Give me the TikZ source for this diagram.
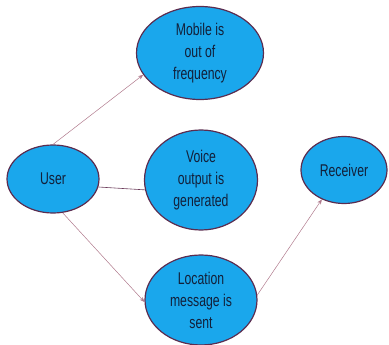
\documentclass[tikz,border=0pt]{standalone}
\usepackage{fontspec}
\setmainfont[FakeStretch=0.72]{Liberation Sans}
\usetikzlibrary{shapes.geometric,arrows.meta}
\definecolor{bubble}{HTML}{1AA7EC}
\definecolor{rim}{HTML}{5B2C4F}
\definecolor{wire}{HTML}{B07A8C}
\definecolor{ink}{HTML}{12203A}
\tikzstyle{state} = [ellipse, draw=rim, line width=1.2pt, fill=bubble, inner sep=0pt, align=center, text=ink, font=\fontsize{17}{22}\selectfont]
\tikzstyle{link} = [draw=wire, line width=0.5pt, -{Stealth[length=5pt,width=4pt]}]
\tikzstyle{plain} = [draw=rim!80!wire, line width=0.6pt]

\begin{document}
\begin{tikzpicture}[x=1pt, y=-1pt]
    \useasboundingbox (0, 0) rectangle (389, 345);
    \node[state, minimum width=127pt, minimum height=93pt] (Mobile) at (200, 53) {Mobile is\\out of\\frequency};
    \node[state, minimum width=92pt, minimum height=68pt] (User) at (53, 179) {User};
    \node[state, minimum width=113pt, minimum height=100pt] (Voice) at (201, 180) {Voice\\output is\\generated};
    \node[state, minimum width=86pt, minimum height=67pt] (Recv) at (344, 170) {Receiver};
    \node[state, minimum width=112pt, minimum height=90pt] (Loc) at (201, 300) {Location\\message is\\sent};
    \draw[link] (User.north) -- (Mobile.201);
    \draw[plain] (User.-10) -- (Voice.190);
    \draw[link] (User.-74) -- (Loc.182);
    \draw[link] (Loc.5) -- (Recv.233);
  \end{tikzpicture}
\end{document}
